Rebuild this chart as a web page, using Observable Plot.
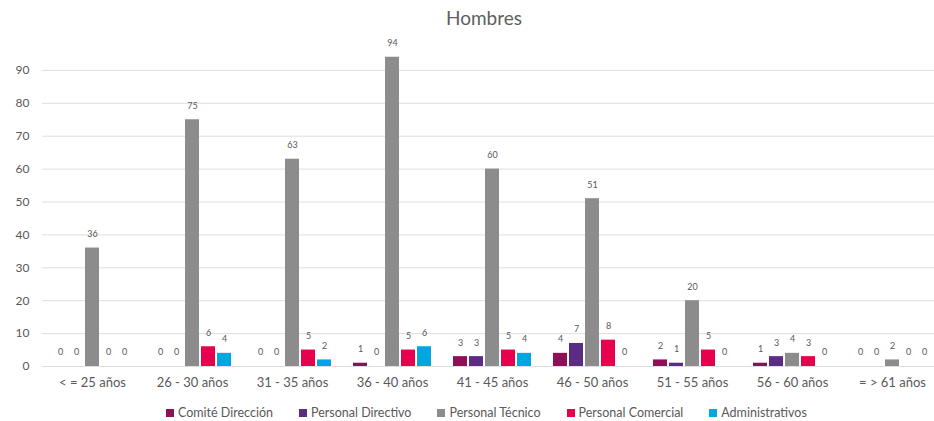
<!DOCTYPE html>
<html>
<head>
<meta charset="utf-8">
<script src="https://cdn.jsdelivr.net/npm/d3@7"></script>
<script src="https://cdn.jsdelivr.net/npm/@observablehq/plot@0.6"></script>
<style>
  html, body { margin: 0; padding: 0; background: #fff; }
  #wrap { position: relative; width: 934px; height: 421px; font-family: Lato, "Open Sans", sans-serif; color: #595959; overflow: hidden; }
  #title { position: absolute; left: 0; width: 968px; top: 6px; text-align: center; font-size: 19px; color: #5f5f5f; }
  #chart { position: absolute; left: 0; top: 0; }
  #legend { position: absolute; left: 166px; top: 405px; display: flex; gap: 26px; font-size: 12.5px; color: #595959; white-space: nowrap; }
  #legend .item { display: flex; align-items: center; }
  #legend .sw { width: 8px; height: 8px; margin-right: 4px; }
</style>
</head>
<body>
<div id="wrap">
  <div id="chart"></div>
  <div id="title">Hombres</div>
  <div id="legend"></div>
</div>
<script>
// Age brackets (categories on the horizontal axis)
const ageGroups = ["< = 25 años", "26 - 30 años", "31 - 35 años", "36 - 40 años", "41 - 45 años",
                   "46 - 50 años", "51 - 55 años", "56 - 60 años", "= > 61 años"];

// Staff categories (series)
const seriesNames = ["Comité Dirección", "Personal Directivo", "Personal Técnico", "Personal Comercial", "Administrativos"];
const seriesColors = ["#8e1057", "#5b2c83", "#8c8c8c", "#e6004d", "#00a6e0"];

// Headcount per age bracket for each series
const comiteDireccion   = [0, 0, 0, 1, 3, 4, 2, 1, 0];
const personalDirectivo = [0, 0, 0, 0, 3, 7, 1, 3, 0];
const personalTecnico   = [36, 75, 63, 94, 60, 51, 20, 4, 2];
const personalComercial = [0, 6, 5, 5, 5, 8, 5, 3, 0];
const administrativos   = [0, 4, 2, 6, 4, 0, 0, 0, 0];

// Value-axis ticks
const yTicks = [0, 10, 20, 30, 40, 50, 60, 70, 80, 90];

const seriesValues = [comiteDireccion, personalDirectivo, personalTecnico, personalComercial, administrativos];
const data = [];
ageGroups.forEach((age, i) => {
  seriesNames.forEach((s, j) => {
    data.push({age, series: s, value: seriesValues[j][i]});
  });
});

const chart = Plot.plot({
  width: 934,
  height: 421,
  marginLeft: 40,
  marginRight: -10,
  marginTop: 37,
  marginBottom: 55,
  style: {fontFamily: "Lato, 'Open Sans', sans-serif", fontSize: "12px", color: "#595959", background: "transparent"},
  fx: {domain: ageGroups, padding: 0, axis: "bottom", label: null, tickSize: 0, tickPadding: 11, fontSize: 13},
  x: {domain: seriesNames, paddingInner: 0.14, paddingOuter: 0.655, axis: null},
  y: {domain: [0, 100], ticks: yTicks, tickSize: 0, tickPadding: 13, label: null},
  color: {domain: seriesNames, range: seriesColors},
  marks: [
    Plot.ruleY(yTicks, {stroke: "#dedede", strokeWidth: 1}),
    Plot.barY(data, {fx: "age", x: "series", y: "value", fill: "series"}),
    Plot.text(data, {fx: "age", x: "series", y: "value", text: d => String(d.value),
                     dy: -14, fontSize: 9, fill: "#595959"})
  ]
});
// Slightly larger type for the age-bracket labels
chart.querySelectorAll("[aria-label='fx-axis tick label'] text, [aria-label='fx-axis'] text").forEach(t => t.setAttribute("font-size", "13"));
document.getElementById("chart").appendChild(chart);

// Legend row
const legend = document.getElementById("legend");
seriesNames.forEach((s, j) => {
  const item = document.createElement("div");
  item.className = "item";
  const sw = document.createElement("span");
  sw.className = "sw";
  sw.style.background = seriesColors[j];
  const label = document.createElement("span");
  label.textContent = s;
  item.appendChild(sw);
  item.appendChild(label);
  legend.appendChild(item);
});
</script>
</body>
</html>
